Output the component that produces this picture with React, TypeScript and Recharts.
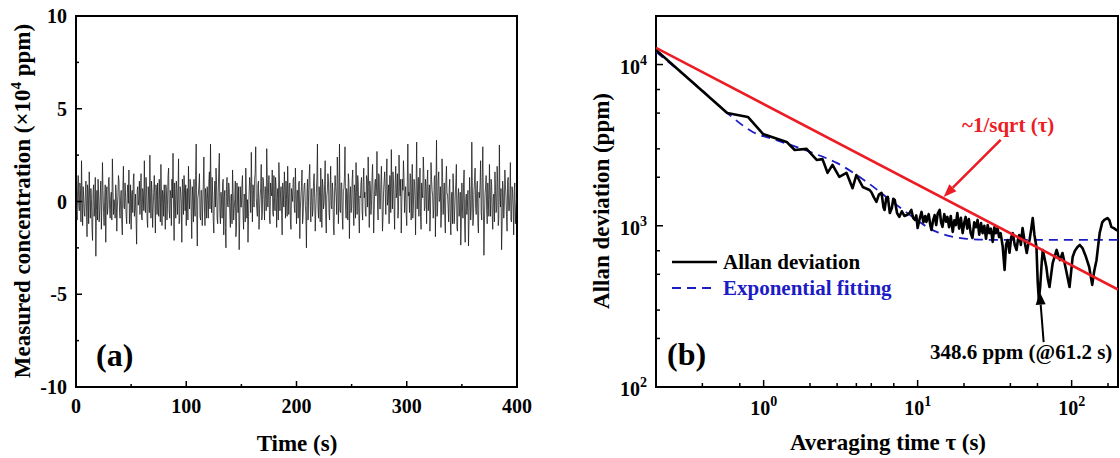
import { LineChart, Line, XAxis, YAxis, ReferenceArea, ReferenceLine } from 'recharts'

const FONT = "'Liberation Serif', 'Times New Roman', Times, serif"

// (a) measured concentration, x10^4 ppm: readings on the whole second ...
const timeStep = 1
const concentration = [
  0.3, -1.0, 1.4, -0.5, 0.7, 2.2, -1.3, 0.2, -0.8, 1.1, -1.9, 0.5, 1.6, -0.9, 0.1, -2.1, 0.9, -0.3, -2.95, 0.6,
  1.2, -1.1, 0.4, -1.5, 2.1, -0.6, 0.0, -2.2, 0.8, -0.3, 1.3, -0.9, 0.5, 2.3, -0.7, -0.2, 0.9, -1.6, 0.3, 1.1,
  -0.9, 0.6, -1.8, 1.9, -0.4, 0.2, -1.2, 0.9, 1.7, -0.5, -1.5, 0.6, 1.2, -0.8, 0.4, -2.3, 0.8, 0.1, -0.7, 1.5,
  -1.0, 0.4, 2.2, -0.6, 0.7, -1.4, 0.2, 2.5, -0.9, 0.5, -0.3, 1.4, -1.7, 0.6, 1.0, -0.8, 0.1, 2.0, -1.3, 0.4,
  0.9, -1.5, 0.6, -0.2, 1.8, -0.9, 0.3, 1.2, 2.6, -2.1, 0.1, 1.1, -0.7, 2.3, -1.1, 0.5, -2.2, 0.7, 1.4, -0.5,
  -1.3, 0.7, 1.9, -0.4, 0.9, -2.0, 0.2, 1.2, -0.8, 3.1, -2.4, 0.4, 1.5, -1.0, 0.6, -0.2, 2.4, -1.3, 0.3, 0.8,
  -0.9, 1.6, 3.1, -0.6, 0.3, -1.7, 1.1, 1.8, -0.9, 0.5, 2.6, -1.2, 0.1, 1.0, -1.8, 0.6, -2.5, 1.3, -0.3, 0.7,
  -1.4, 0.4, 1.7, -1.0, 0.1, -1.9, 1.0, -0.6, -2.6, 0.8, -0.3, 1.4, -1.5, 0.3, 1.8, -0.9, -2.2, 0.4, 0.9, 2.65,
  -1.1, 0.6, 1.2, 2.95, -0.4, 0.9, -1.5, 0.3, 2.0, -0.7, 1.1, -1.0, 0.7, 2.85, -0.3, 1.4, -1.2, 0.5, 1.7, -0.8,
  0.2, 1.3, -1.4, 0.7, 2.1, -0.5, 0.8, -1.8, 0.4, 1.6, -0.9, 0.1, 1.9, -0.7, 1.0, -1.5, 0.4, 1.2, -0.3, 1.8,
  -1.2, 0.6, 1.0, -2.0, 0.3, 1.7, -0.8, 0.9, -0.2, -2.5, 1.2, 0.4, 2.0, -1.1, 0.7, -0.4, 1.5, -1.6, 0.5, 3.1,
  -0.9, 0.3, 1.8, -1.4, 0.8, -0.1, 2.2, -1.7, 0.6, 1.1, -1.0, 1.9, -0.4, 0.5, -1.8, 1.4, 0.2, 2.4, -1.2, 3.1,
  -0.6, 1.0, -1.5, 0.7, 2.95, -0.9, 0.4, 1.5, -2.0, 0.8, -0.3, 1.7, -1.3, 0.5, 2.1, -0.7, 1.0, -1.7, 0.2, 1.3,
  -1.0, 1.8, 0.5, -0.8, 1.2, 2.4, -1.4, 0.7, -0.2, 2.0, -1.7, 0.9, 0.3, 2.7, -1.0, 1.4, -0.4, 1.9, -1.6, 0.6,
  1.6, -0.7, 2.3, 0.2, -1.2, 1.3, 2.8, -0.4, 1.0, -1.5, 1.9, 0.5, -0.9, 2.5, 0.3, -1.7, 1.2, 2.2, -0.6, 0.8,
  -1.3, 3.1, 0.5, 1.5, -1.0, 2.0, -0.3, 1.1, -1.8, 3.2, 0.7, -0.8, 1.8, -1.5, 0.4, 2.4, -0.5, 1.2, -1.2, 1.7,
  0.2, -1.6, 2.1, 0.6, -0.9, 1.3, -1.9, 3.3, -0.4, 1.6, 0.1, -1.4, 2.3, -0.7, 1.0, -1.7, 1.9, 0.4, -1.1, 1.2,
  -1.8, 0.5, 1.5, -1.2, 0.3, 2.0, -1.6, 0.7, -0.5, -2.35, 1.0, -0.9, 1.7, -2.2, 0.4, -0.3, -2.4, 1.3, -1.0, 3.2,
  -1.3, 0.6, 1.8, -0.7, 1.1, -1.7, 0.2, 2.2, -1.0, 2.95, -2.9, 0.4, 1.4, -1.2, 0.1, 2.0, -0.8, 0.9, -1.5, 0.4,
  1.6, -0.6, 1.9, -1.3, 3.05, -0.3, -2.6, 1.1, -0.9, 1.7, 0.3, -1.6, 1.3, -0.5, 2.1, -1.1, 0.5, -1.8, 1.0, -0.4,
  0.2,
]
// ... and the readings half a second later
const halfSecondReadings = [
  -0.4, 0.6, -0.2, 1.0, -1.1, 0.3, 0.8, -0.6, 0.4, -0.3, 0.9, -1.2, 0.2, 0.7, -1.4, 0.5, -0.8, 1.3, -0.5, -1.0,
  0.4, -0.5, 1.1, -0.2, 0.6, -1.3, 0.9, 0.3, -0.7, 1.2, -0.4, 0.2, -1.0, 0.8, 0.1, -0.9, 0.5, -0.3, 1.4, -0.6,
  0.2, -1.1, 0.7, -0.3, 1.0, -0.8, 0.5, -0.1, -1.2, 0.9, 0.3, -0.6, 1.5, -0.4, -1.0, 0.6, -0.2, 1.1, 0.4, -0.9,
  0.7, -0.5, -0.2, 1.3, -1.0, 0.8, -0.6, 0.3, 1.1, -1.4, 0.5, 0.0, 0.9, -0.7, -0.3, 1.2, -1.1, 0.4, 0.6, -0.8,
  -0.2, 0.9, -1.0, 1.4, -0.5, 0.6, -1.3, 0.2, -0.4, 1.0, -0.9, 0.7, 0.3, -1.2, 0.8, -0.1, 1.2, -0.7, 0.4, 0.9,
  0.5, -1.0, 0.3, 1.2, -0.6, 0.8, -1.1, -0.2, 1.4, -0.5, 0.2, 0.9, -0.8, 0.6, -1.3, 1.0, -0.3, 0.7, -0.9, 0.1,
  1.1, -0.4, 0.6, 1.3, -1.0, 0.4, -0.3, 0.9, -1.2, 1.7, -0.6, 0.5, -0.9, 1.2, 0.2, -1.4, 0.8, -0.2, 1.0, -0.7,
  0.3, -1.2, 0.6, -0.4, 1.1, -1.5, 0.2, 0.8, -1.0, -0.3, 0.9, -0.7, 0.4, -1.1, 0.5, 0.1, -0.8, 1.3, -0.6, 0.7,
  0.9, -0.3, 1.5, 0.2, -0.8, 1.1, -0.4, 0.7, -1.0, 1.3, 0.1, 0.8, -0.5, 1.2, 0.4, -0.9, 1.0, 0.3, -0.6, 1.4,
  -0.5, 0.8, 0.2, -1.0, 1.2, 0.4, -0.7, 1.0, -0.3, 0.6, 1.1, -0.8, 0.5, 0.9, -1.1, 0.7, 0.0, 1.3, -0.6, 0.4,
  0.6, -0.9, 1.1, -0.4, 0.8, -1.2, 0.3, 1.0, -0.7, 0.5, -1.0, 1.4, -0.2, 0.6, -0.8, 1.1, 0.2, -0.5, 1.3, -0.3,
  0.8, -1.1, 0.5, 1.2, -0.4, 0.9, -0.9, 0.3, 1.5, -0.6, 0.7, -0.2, 1.0, -1.3, 0.4, 0.8, -0.7, 1.2, 0.1, -0.5,
  1.0, -0.8, 0.6, 1.3, -0.3, 0.7, -1.0, 1.1, 0.2, -0.6, 1.2, -0.4, 0.9, -0.9, 0.5, 1.4, -0.7, 0.3, 1.0, -0.5,
  0.9, 0.2, -0.6, 1.4, -0.3, 0.8, 1.1, -0.7, 1.3, 0.4, -0.5, 1.2, 0.6, -0.2, 1.5, -0.4, 0.9, 0.3, -0.8, 1.1,
  0.5, 1.3, -0.2, 0.9, 1.4, -0.6, 0.7, 1.6, -0.3, 1.0, 0.2, 1.5, -0.5, 0.8, 1.2, -0.1, 0.6, 1.3, 0.4, -0.7,
  1.1, 0.3, -0.6, 1.4, 0.5, -0.9, 1.2, 0.1, 0.9, -0.4, 1.3, 0.6, -0.8, 1.0, 0.2, 1.5, -0.3, 0.7, 1.1, -0.5,
  0.9, -0.7, 1.2, 0.3, -0.4, 1.4, 0.6, -0.8, 1.1, 0.0, 0.8, -0.6, 1.3, 0.2, -0.9, 1.0, 0.4, -0.3, 0.7, -1.0,
  0.2, -1.2, 0.6, -0.5, 1.0, -1.4, 0.3, -0.8, 0.5, -1.1, -0.2, 0.9, -1.3, 0.1, -0.7, 0.6, -1.0, 0.4, -0.4, 0.8,
  -0.9, 1.1, -0.3, 0.7, -1.2, 0.5, 0.9, -0.6, 1.3, -0.2, -1.0, 0.8, -0.5, 1.0, -0.8, 0.4, 1.2, -0.7, 0.2, -1.1,
  0.6, -0.4, 1.0, -0.9, 0.3, 0.7, -1.3, 0.5, -0.2, 0.9, -0.8, 1.1, -0.5, 0.4, -1.0, 0.8, -0.3, 0.6, -1.2, 0.1,
]
const timeTicks = [0, 50, 100, 150, 200, 250, 300, 350, 400]
const concTicks = [-10, -7.5, -5, -2.5, 0, 2.5, 5, 7.5, 10]

// (b) Allan deviation, ppm
const allanTau = [
  0.2, 0.4, 0.58, 0.79, 0.99, 1.41, 1.59, 1.9, 2.21, 2.41, 2.6, 2.8, 3.1, 3.45, 3.78, 4.0, 4.4, 4.87,
  5.0, 5.2, 5.4, 5.6, 5.83, 6.0, 6.1, 6.25, 6.4, 6.6, 6.8, 6.95, 7.1, 7.35, 7.6, 7.9, 8.2, 8.5, 8.8, 9.1,
  9.35, 9.6, 9.8, 10.0, 10.3, 10.6, 10.9, 11.2, 11.4, 11.8, 12.1, 12.3, 12.6, 12.9, 13.2, 13.5, 13.9, 14.2,
  14.5, 14.9, 15.3, 15.6, 16.0, 16.4, 16.9, 17.3, 17.7, 18.1, 18.6, 19.1, 19.6, 20.1, 20.5, 21.0, 21.5, 22.1,
  22.7, 23.3, 23.9, 24.5, 25.1, 25.8, 26.4, 27.1, 27.8, 28.5, 29.2, 29.9, 30.7, 31.5, 32.2, 33.0, 33.8, 34.6,
  35.7, 36.7, 37.5, 38.4, 39.5, 40.5, 41.5, 42.7, 43.9, 44.8, 45.7, 46.8, 48.0, 49.5, 51.1, 52.2, 53.3, 54.6,
  55.9, 57.3, 59.1, 60.2, 61.2, 62.5, 64.0, 65.0, 68.5, 70, 71.8, 75.3, 79.9, 82, 83.9, 87.2, 92, 96.9,
  101.5, 105, 109.2, 113, 117.6, 124, 130, 136, 140, 145, 152, 158, 163, 171, 176, 181, 190, 195, 200,
]
const allanSigma = [
  12300, 6850, 5000, 4730, 3710, 3310, 2950, 3000, 2560, 2590, 2130, 2385, 2010, 2130, 1710, 2065, 1740, 1667,
  1620, 1500, 1407, 1560, 1600, 1300, 1253, 1480, 1510, 1200, 1290, 1470, 1445, 1200, 1135, 1230, 1150, 1165, 1190, 1253,
  1120, 1087, 1160, 968, 1100, 1219, 1050, 1150, 1056, 1180, 1000, 942, 1080, 1165, 1010, 1190, 1253, 1050,
  985, 1180, 1060, 1135, 980, 1150, 916, 1080, 1010, 1200, 960, 1120, 900, 1050, 1135, 960, 1100, 900,
  840, 1050, 980, 1087, 880, 1040, 900, 1000, 830, 1011, 900, 960, 794, 980, 900, 968, 850, 900,
  738, 532, 760, 816, 680, 850, 900, 760, 708, 820, 877, 760, 968, 800, 678, 760, 816, 950,
  1117, 880, 738, 450, 349, 420, 600, 708, 555, 470, 417, 587, 708, 650, 612, 678, 532, 417,
  640, 700, 738, 760, 727, 640, 555, 430, 520, 612, 900, 1050, 1087, 1117, 1080, 985, 960, 942, 930,
]
const fitTau = [0.2, 0.4, 0.58, 0.85, 1.21, 2.08, 2.98, 4.67, 7.3, 13.3, 20.8, 30, 50, 100, 200]
const fitSigma = [11970, 6900, 5010, 3820, 3400, 2830, 2455, 1870, 1346, 916, 830, 818, 817, 817, 817]
const slopeTau = [0.2, 200]
const slopeSigma = [12700, 402]
const tauTicks = [0.2, 0.3, 0.4, 0.5, 0.6, 0.7, 0.8, 0.9, 1, 2, 3, 4, 5, 6, 7, 8, 9, 10, 20, 30, 40, 50, 60, 70, 80, 90, 100, 200]
const sigmaTicks = [100, 200, 300, 400, 500, 600, 700, 800, 900, 1000, 2000, 3000, 4000, 5000, 6000, 7000, 8000, 9000, 10000, 20000]

const noiseData = concentration.flatMap((v, i) =>
  i < halfSecondReadings.length
    ? [{ t: i * timeStep, v }, { t: (i + 0.5) * timeStep, v: halfSecondReadings[i] }]
    : [{ t: i * timeStep, v }],
)
const allanData = allanTau.map((tau, i) => ({ tau, s: allanSigma[i] }))
const fitData = fitTau.map((tau, i) => ({ tau, s: fitSigma[i] }))
const slopeData = slopeTau.map((tau, i) => ({ tau, s: slopeSigma[i] }))

const RED = '#ec1c24'
const BLUE = '#1c1cc4'

function LinXTick({ x, y, payload }: any) {
  const major = payload.value % 100 === 0
  return (
    <g>
      <line x1={x} x2={x} y1={y} y2={y - (major ? 6 : 3)} stroke="#000" strokeWidth={1.5} />
      {major && (
        <text x={x} y={y + 26} textAnchor="middle" fontFamily={FONT} fontWeight="bold" fontSize={20} fill="#000">
          {payload.value}
        </text>
      )}
    </g>
  )
}

function LinYTick({ x, y, payload }: any) {
  const major = payload.value % 5 === 0
  return (
    <g>
      <line x1={x} x2={x + (major ? 6 : 3)} y1={y} y2={y} stroke="#000" strokeWidth={1.5} />
      {major && (
        <text x={x - 9} y={y + 7} textAnchor="end" fontFamily={FONT} fontWeight="bold" fontSize={20} fill="#000">
          {payload.value}
        </text>
      )}
    </g>
  )
}

function decade(v: number) {
  const n = Math.round(Math.log10(v))
  return Math.abs(Math.pow(10, n) - v) < 1e-9 * v ? n : null
}

function LogXTick({ x, y, payload }: any) {
  const n = decade(payload.value)
  return (
    <g>
      <line x1={x} x2={x} y1={y} y2={y - (n !== null ? 7 : 4)} stroke="#000" strokeWidth={1.5} />
      {n !== null && (
        <text x={x} y={y + 28} textAnchor="middle" fontFamily={FONT} fontWeight="bold" fontSize={20} fill="#000">
          <tspan>10</tspan>
          <tspan dy={-9} fontSize={14}>{n}</tspan>
        </text>
      )}
    </g>
  )
}

function LogYTick({ x, y, payload }: any) {
  const n = decade(payload.value)
  return (
    <g>
      <line x1={x} x2={x + (n !== null ? 7 : 4)} y1={y} y2={y} stroke="#000" strokeWidth={1.5} />
      {n !== null && (
        <text x={x - 9} y={y + 9} textAnchor="end" fontFamily={FONT} fontWeight="bold" fontSize={20} fill="#000">
          <tspan>10</tspan>
          <tspan dy={-9} fontSize={14}>{n}</tspan>
        </text>
      )}
    </g>
  )
}

function Arrow(props: any) {
  const { x1, y1, x2, y2, stroke, strokeWidth } = props
  const a = Math.atan2(y2 - y1, x2 - x1)
  const len = 13
  const half = 5
  const bx = x2 - len * Math.cos(a)
  const by = y2 - len * Math.sin(a)
  const px = -Math.sin(a) * half
  const py = Math.cos(a) * half
  return (
    <g>
      <line x1={x1} y1={y1} x2={bx} y2={by} stroke={stroke} strokeWidth={strokeWidth} />
      <polygon points={`${x2},${y2} ${bx + px},${by + py} ${bx - px},${by - py}`} fill={stroke} />
    </g>
  )
}

const txt = { fontFamily: FONT, fontWeight: 'bold' as const, fill: '#000' }

export default function App() {
  return (
    <div style={{ position: 'absolute', left: 0, top: 0, width: 1120, height: 458, background: '#fff' }}>
      <div style={{ position: 'absolute', left: 0, top: 0 }}>
        <LineChart width={560} height={458} margin={{ top: 16, left: 26, right: 43, bottom: 41 }}>
          <XAxis
            dataKey="t"
            type="number"
            domain={[0, 400]}
            ticks={timeTicks}
            height={30}
            axisLine={false}
            tickLine={false}
            tickSize={0}
            tickMargin={0}
            tick={<LinXTick />}
            allowDataOverflow
          />
          <YAxis
            type="number"
            domain={[-10, 10]}
            ticks={concTicks}
            width={50}
            axisLine={false}
            tickLine={false}
            tickSize={0}
            tickMargin={0}
            tick={<LinYTick />}
            allowDataOverflow
          />
          <Line
            data={noiseData}
            dataKey="v"
            type="linear"
            dot={false}
            stroke="#141414"
            strokeWidth={0.75}
            isAnimationActive={false}
          />
          <ReferenceArea x1={0} x2={400} y1={-10} y2={10} fill="none" stroke="#000" strokeWidth={2} />
        </LineChart>
      </div>

      <div style={{ position: 'absolute', left: 560, top: 0 }}>
        <LineChart width={560} height={458} margin={{ top: 16, left: 46, right: 2, bottom: 41 }}>
          <XAxis
            dataKey="tau"
            type="number"
            scale="log"
            domain={[0.2, 200]}
            ticks={tauTicks}
            height={30}
            axisLine={false}
            tickLine={false}
            tickSize={0}
            tickMargin={0}
            tick={<LogXTick />}
            allowDataOverflow
          />
          <YAxis
            type="number"
            scale="log"
            domain={[100, 20000]}
            ticks={sigmaTicks}
            width={50}
            axisLine={false}
            tickLine={false}
            tickSize={0}
            tickMargin={0}
            tick={<LogYTick />}
            allowDataOverflow
          />
          <Line data={fitData} dataKey="s" type="monotone" dot={false} stroke={BLUE} strokeWidth={1.8} strokeDasharray="9 6" isAnimationActive={false} />
          <Line data={allanData} dataKey="s" type="linear" dot={false} stroke="#000" strokeWidth={2.6} strokeLinejoin="round" isAnimationActive={false} />
          <Line data={slopeData} dataKey="s" type="linear" dot={false} stroke={RED} strokeWidth={2.6} isAnimationActive={false} />
          <ReferenceLine
            segment={[{ x: 34.6, y: 3405 }, { x: 14.75, y: 1510 }]}
            stroke={RED}
            strokeWidth={2.5}
            shape={<Arrow />}
          />
          <ReferenceLine
            segment={[{ x: 65.8, y: 190 }, { x: 62, y: 390 }]}
            stroke="#000"
            strokeWidth={2}
            shape={<Arrow />}
          />
          <ReferenceArea x1={0.2} x2={200} y1={100} y2={20000} fill="none" stroke="#000" strokeWidth={2} />
        </LineChart>
      </div>

      <svg width={1120} height={458} style={{ position: 'absolute', left: 0, top: 0, pointerEvents: 'none' }}>
        <text {...txt} fontSize={23} textAnchor="middle" transform="translate(30,201) rotate(-90)">
          Measured concentration (×10<tspan dy={-9} fontSize={15}>4</tspan>
          <tspan dy={9}> ppm)</tspan>
        </text>
        <text {...txt} fontSize={23} textAnchor="middle" x={297} y={451}>Time (s)</text>
        <text {...txt} fontSize={32} x={96} y={366}>(a)</text>

        <text {...txt} fontSize={23} textAnchor="middle" transform="translate(609,201) rotate(-90)">
          Allan deviation (ppm)
        </text>
        <text {...txt} fontSize={23} textAnchor="middle" x={888} y={450}>Averaging time τ (s)</text>
        <text {...txt} fontSize={32} x={667} y={365}>(b)</text>

        <line x1={672} x2={717} y1={262} y2={262} stroke="#000" strokeWidth={2.6} />
        <text {...txt} fontSize={21} x={723} y={269}>Allan deviation</text>
        <line x1={672} x2={717} y1={288} y2={288} stroke={BLUE} strokeWidth={1.8} strokeDasharray="9 6" />
        <text {...txt} fontSize={21} x={723} y={295} fill={BLUE}>Exponential fitting</text>

        <text {...txt} fontSize={21} x={962} y={132} fill={RED}>~1/sqrt (τ)</text>
        <text {...txt} fontSize={21} x={930} y={359}>348.6 ppm (@61.2 s)</text>
      </svg>
    </div>
  )
}
